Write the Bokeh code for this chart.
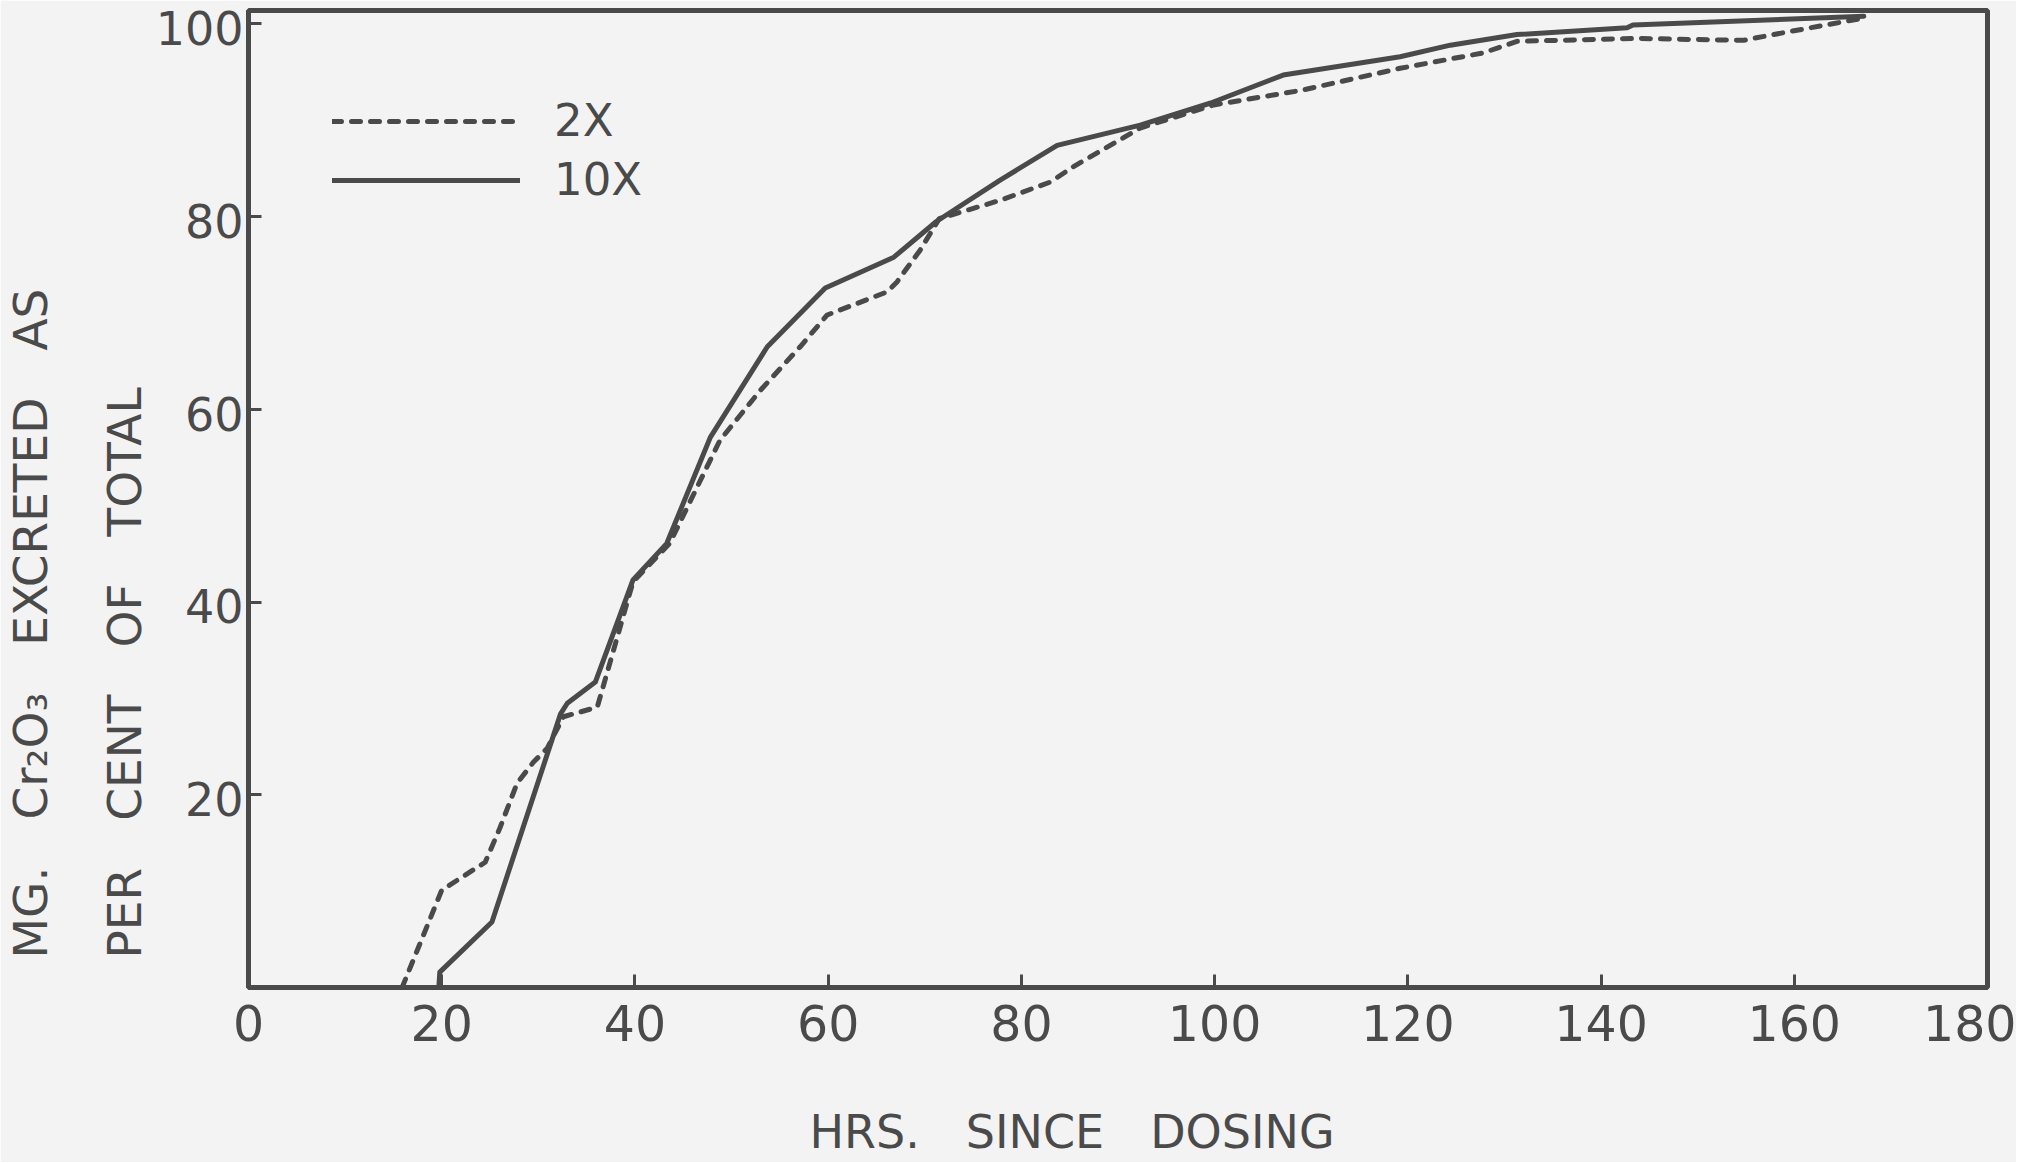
from bokeh.plotting import figure
from bokeh.models import Range1d, FixedTicker, Legend, LegendItem, LinearAxis, Title
from bokeh.embed import file_html
from bokeh.resources import INLINE

# ---- data ----
x_2x = [15.9, 20.0, 24.5, 26.0, 27.8, 29.5, 30.9, 32.6, 36.1, 36.7, 39.8, 43.6, 48.8,
        53.0, 57.1, 59.9, 66.1, 67.1, 69.5, 71.5, 77.8, 83.0, 85.4, 92.3, 99.9,
        108.9, 119.2, 127.8, 131.3, 143.7, 154.7, 158.9, 167.1]
y_2x = [0.0, 10.1, 13.0, 16.5, 21.2, 23.4, 24.8, 28.1, 29.1, 31.2, 42.1, 46.1, 56.8,
        62.0, 66.5, 69.8, 72.2, 73.2, 76.5, 79.8, 81.7, 83.6, 85.2, 89.2, 91.6,
        93.1, 95.4, 97.0, 98.2, 98.5, 98.3, 99.1, 100.6]

x_10x = [19.7, 19.8, 25.2, 32.3, 33.0, 35.9, 39.8, 43.3, 47.8, 53.7, 59.7, 66.8,
         71.2, 77.8, 83.7, 92.3, 99.6, 107.1, 119.2, 124.4, 131.3, 142.7, 143.3, 167.2]
y_10x = [0.0, 1.6, 6.8, 28.4, 29.5, 31.7, 42.3, 46.1, 57.1, 66.5, 72.6, 75.8,
         79.5, 83.8, 87.4, 89.5, 91.8, 94.7, 96.6, 97.8, 98.9, 99.6, 99.9, 100.8]

x_ticks = [0, 20, 40, 60, 80, 100, 120, 140, 160, 180]
y_ticks = [20, 40, 60, 80, 100]
series_labels = ["2X", "10X"]
x_title = "HRS.\u2003SINCE\u2003DOSING\u2003\u2003"
y_title_1 = "MG.\u2003Cr\u2082O\u2083\u2003EXCRETED\u2003AS"
y_title_2 = "PER\u2003CENT\u2003OF\u2003TOTAL"

INK = "#4a4a4a"
PAPER = "#f3f3f3"
FONT = "DejaVu Sans"
Y_MAX = 101.4
LABEL_SHIFT = 0.45   # y tick labels sit a little below their ticks, as drawn

p = figure(frame_width=1739, frame_height=977,
           min_border_left=248, min_border_right=29,
           min_border_top=10, min_border_bottom=175,
           x_range=Range1d(0, 180), y_range=Range1d(0, Y_MAX),
           output_backend="svg", toolbar_location=None)
p.background_fill_color = PAPER
p.border_fill_color = PAPER
p.outline_line_color = INK
p.outline_line_width = 5
p.xgrid.visible = False
p.ygrid.visible = False

for ax in (p.xaxis[0], p.yaxis[0]):
    ax.axis_line_color = INK
    ax.axis_line_width = 5
    ax.major_tick_in = 13
    ax.major_tick_out = 0
    ax.minor_tick_in = 0
    ax.minor_tick_out = 0
    ax.major_tick_line_color = INK
    ax.major_tick_line_width = 3
    ax.minor_tick_line_color = None
    ax.major_label_text_font = FONT
    ax.major_label_text_color = INK

xa = p.xaxis[0]
xa.ticker = FixedTicker(ticks=x_ticks)
xa.major_label_text_font_size = "49px"
xa.major_label_standoff = 17
xa.axis_label = x_title
xa.axis_label_standoff = 61
xa.axis_label_text_font = FONT
xa.axis_label_text_font_size = "46px"
xa.axis_label_text_font_style = "normal"
xa.axis_label_text_color = INK

p.yaxis[0].ticker = FixedTicker(ticks=y_ticks)
p.yaxis[0].major_label_overrides = {t: "" for t in y_ticks}
p.yaxis[0].major_label_standoff = 0
p.yaxis[0].major_label_text_font_size = "1px"

p.extra_y_ranges = {"lab": Range1d(LABEL_SHIFT, Y_MAX + LABEL_SHIFT)}
lab_axis = LinearAxis(y_range_name="lab", ticker=FixedTicker(ticks=y_ticks),
                      axis_line_color=None, major_tick_line_color=None,
                      minor_tick_line_color=None, major_tick_in=0, major_tick_out=0,
                      minor_tick_in=0, minor_tick_out=0,
                      major_label_standoff=5, major_label_text_font=FONT,
                      major_label_text_font_size="46px",
                      major_label_text_color=INK)
p.add_layout(lab_axis, "left")

r2 = p.line(x_2x, y_2x, line_color=INK, line_width=5, line_dash="9 10",
            line_cap="round", line_join="round")
r10 = p.line(x_10x, y_10x, line_color=INK, line_width=5,
             line_cap="round", line_join="round")

legend = Legend(items=[LegendItem(label=series_labels[0], renderers=[r2]),
                       LegendItem(label=series_labels[1], renderers=[r10])],
                location="top_left", margin=0, padding=84,
                glyph_width=188, glyph_height=50, spacing=6,
                label_standoff=34,
                label_text_font=FONT, label_text_font_size="45px",
                label_text_color=INK,
                background_fill_alpha=0, border_line_alpha=0)
p.add_layout(legend)

ty = Title(text=y_title_1 + "\n" + y_title_2, align="left", offset=29, standoff=0,
           text_font=FONT, text_font_size="47px", text_font_style="normal",
           text_line_height=1.71, text_color=INK)
p.add_layout(ty, "left")

open("out.html", "w").write(file_html(p, INLINE))
